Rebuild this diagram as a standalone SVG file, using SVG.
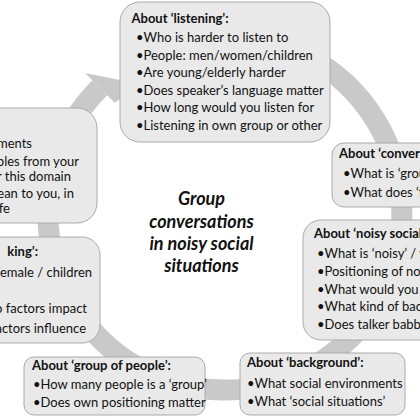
<svg xmlns="http://www.w3.org/2000/svg" width="420" height="420" viewBox="0 0 420 420">
<style>
.ring{fill:none;stroke:#c9c9c9;stroke-width:21}
.head{fill:#c9c9c9}
.box{fill:#e9e9e9;stroke:#aaaaaa;stroke-width:1}
.h{font-family:Lato,"Liberation Sans",sans-serif;font-weight:bold;font-size:13px;fill:#111}
.t{font-family:Lato,"Liberation Sans",sans-serif;font-size:13px;fill:#111}
.e{text-anchor:end}
.title{font-family:Lato,"Liberation Sans",sans-serif;font-weight:bold;font-style:italic;font-size:18px;fill:#111;text-anchor:middle}
</style>
<rect width="420" height="420" fill="#ffffff"/>
<g id="connectors">
<path class="ring" d="M 136.5 59.7 A 177 177 0 1 1 99.8 87.8"/>
<polygon class="head" points="85,73 140,84 114.7,102.7"/>
</g>
<g id="node-experience">
<rect class="box" x="-20" y="108" width="117" height="115" rx="20"/>
<text class="t e" x="32" y="148">ments</text>
<text class="t e" x="79" y="166">ples from your</text>
<text class="t e" x="71" y="181">r this domain</text>
<text class="t e" x="74" y="198">ean to you, in</text>
<text class="t e" x="10" y="213">fe</text>
</g>
<g id="node-listening">
<rect class="box" x="120" y="2" width="210" height="140" rx="20"/>
<text class="h" x="131.5" y="23">About ‘listening’:</text>
<text class="t" x="136" y="42">•Who is harder to listen to</text>
<text class="t" x="136" y="59.5">•People: men/women/children</text>
<text class="t" x="136" y="77">•Are young/elderly harder</text>
<text class="t" x="136" y="94.5">•Does speaker’s language matter</text>
<text class="t" x="136" y="112">•How long would you listen for</text>
<text class="t" x="136" y="129.5">•Listening in own group or other</text>
</g>
<g id="node-conversations">
<rect class="box" x="332" y="143" width="110" height="64" rx="12"/>
<text class="h" x="339" y="158">About ‘conver</text>
<text class="t" x="343" y="178">•What is ‘grou</text>
<text class="t" x="343" y="197">•What does ‘f</text>
</g>
<g id="node-noisy">
<rect class="box" x="303" y="220" width="140" height="120" rx="18"/>
<text class="h" x="314" y="238">About ‘noisy social</text>
<text class="t" x="317" y="258">•What is ‘noisy’ / w</text>
<text class="t" x="317" y="276">•Positioning of noi</text>
<text class="t" x="317" y="293.5">•What would you c</text>
<text class="t" x="317" y="311">•What kind of back</text>
<text class="t" x="317" y="329">•Does talker babbl</text>
</g>
<g id="node-background">
<rect class="box" x="240" y="353" width="165" height="62" rx="10"/>
<text class="h" x="247" y="367">About ‘background’:</text>
<text class="t" x="247" y="388">•What social environments</text>
<text class="t" x="247" y="406">•What ‘social situations’</text>
</g>
<g id="node-group">
<rect class="box" x="24" y="357" width="181" height="58" rx="10"/>
<text class="h" x="32" y="370">About ‘group of people’:</text>
<text class="t" x="33" y="389">•How many people is a ‘group’</text>
<text class="t" x="33" y="407">•Does own positioning matter</text>
</g>
<g id="node-speaking">
<rect class="box" x="-20" y="237" width="120" height="106" rx="18"/>
<text class="h e" x="38" y="256">king’:</text>
<text class="t e" x="92" y="276.5">emale / children</text>
<text class="t e" x="87" y="312.5">o factors impact</text>
<text class="t e" x="86" y="332.5">actors influence</text>
</g>
<g id="node-title">
<text class="title" x="201.5" y="205">Group</text>
<text class="title" x="201.5" y="228">conversations</text>
<text class="title" x="201.5" y="250">in noisy social</text>
<text class="title" x="201.5" y="272">situations</text>
</g>
</svg>
